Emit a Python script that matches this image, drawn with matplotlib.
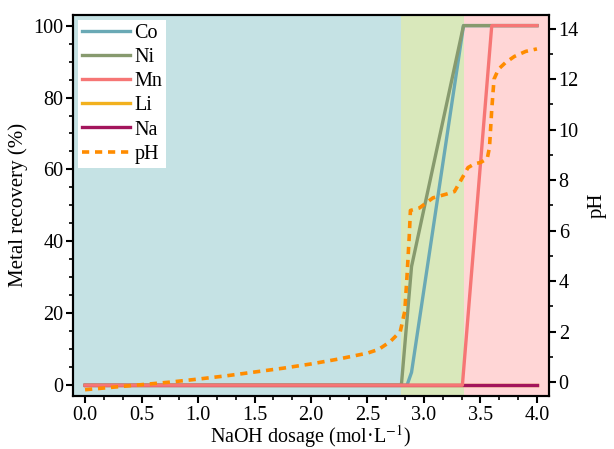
import matplotlib
matplotlib.use("Agg")
import matplotlib.pyplot as plt
from matplotlib.ticker import MultipleLocator, AutoMinorLocator

plt.rcParams['font.family'] = ['Liberation Serif', 'DejaVu Serif']
plt.rcParams['mathtext.fontset'] = 'stix'

# recovery curves (%) vs NaOH dosage (mol/L)
co_x = [0.0, 2.85, 2.89, 3.35, 4.0]
co_y = [0, 0, 3.6, 100, 100]
ni_x = [0.0, 2.80, 2.89, 3.35, 4.0]
ni_y = [0, 0, 33, 100, 100]
mn_x = [0.0, 3.34, 3.60, 4.0]
mn_y = [0, 0, 100, 100]
li_x = [0.0, 4.0]
li_y = [0, 0]
na_x = [0.0, 4.0]
na_y = [0, 0]

# pH curve
ph_x = [0.0, 0.25, 0.5, 0.75, 1.0, 1.25, 1.5, 1.75, 2.0, 2.25, 2.5, 2.6, 2.7,
        2.79, 2.83, 2.85, 2.87, 2.88, 2.96, 3.08, 3.2, 3.27, 3.34, 3.39, 3.45,
        3.5, 3.56, 3.58, 3.6, 3.62, 3.66, 3.72, 3.8, 3.9, 4.0]
ph_y = [-0.3, -0.2, -0.1, 0.0, 0.12, 0.25, 0.4, 0.55, 0.72, 0.92, 1.15, 1.3, 1.6,
        2.0, 2.8, 4.2, 5.8, 6.8, 6.9, 7.3, 7.45, 7.55, 8.1, 8.5, 8.65,
        8.7, 8.85, 9.3, 10.8, 12.0, 12.4, 12.65, 12.9, 13.1, 13.2]

# shaded regions
regions = [(-0.2, 2.80, '#c5e2e4'), (2.80, 3.35, '#d9e8bb'), (3.35, 4.2, '#ffd6d6')]

fig = plt.figure(figsize=(6.14, 4.49), dpi=100)
ax = fig.add_axes([0.119, 0.118, 0.775, 0.849])
ax2 = ax.twinx()

for x0, x1, c in regions:
    ax.axvspan(x0, x1, color=c, lw=0, zorder=0)

lw = 2.4
l_co, = ax.plot(co_x, co_y, color='#6aa9b5', lw=lw, label='Co', zorder=2)
l_ni, = ax.plot(ni_x, ni_y, color='#879a6e', lw=lw, label='Ni', zorder=2)
l_li, = ax.plot(li_x, li_y, color='#f2b11e', lw=lw, label='Li', zorder=2)
l_na, = ax.plot(na_x, na_y, color='#a3155c', lw=lw, label='Na', zorder=2)
l_mn, = ax.plot(mn_x, mn_y, color='#f67675', lw=lw, label='Mn', zorder=3)
l_ph, = ax2.plot(ph_x, ph_y, color='#ff8c00', lw=2.6, ls=(0, (2, 1.6)), label='pH')

ax.set_xlim(-0.106, 4.106)
ax.set_ylim(-3, 103)
ax2.set_ylim(-0.55, 14.55)

ax.xaxis.set_major_locator(MultipleLocator(0.5))
ax.xaxis.set_minor_locator(AutoMinorLocator(3))
ax.yaxis.set_major_locator(MultipleLocator(20))
ax.yaxis.set_minor_locator(AutoMinorLocator(4))
ax2.yaxis.set_major_locator(MultipleLocator(2))
ax2.yaxis.set_minor_locator(AutoMinorLocator(2))

for a in (ax, ax2):
    for s in a.spines.values():
        s.set_linewidth(1.5)
    a.tick_params(which='major', direction='out', length=5, width=1.5,
                  labelsize=14.5, pad=2)
    a.tick_params(which='minor', direction='out', length=3, width=1.2)

ax.set_xlabel('NaOH dosage (mol·L$^{-1}$)', fontsize=14.5, labelpad=-1)
ax.set_ylabel('Metal recovery (%)', fontsize=15, labelpad=4)
ax2.set_ylabel('pH', fontsize=15, labelpad=6)

handles = [l_co, l_ni, l_mn, l_li, l_na, l_ph]
leg = ax.legend(handles, [h.get_label() for h in handles], loc='upper left',
                fontsize=14.5, frameon=True, fancybox=False, framealpha=1,
                edgecolor='none', borderaxespad=0.25, handlelength=2.4,
                handletextpad=0.2, labelspacing=0.25, borderpad=0.2)
leg.remove()
ax2.add_artist(leg)

fig.savefig('out.png', dpi=100)
